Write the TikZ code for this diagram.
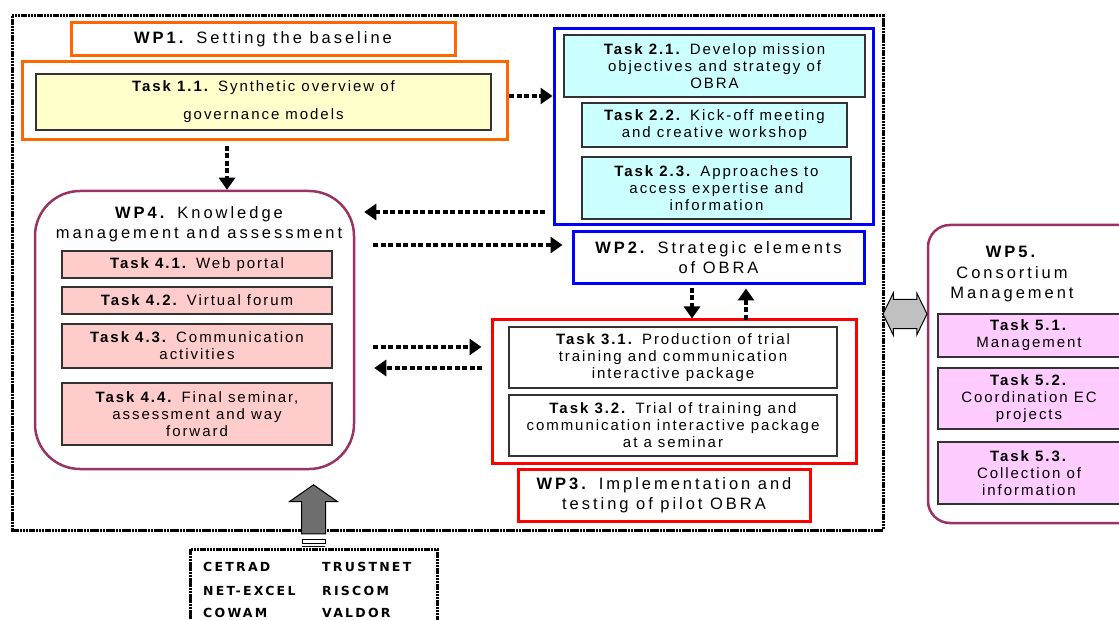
\documentclass[tikz,border=0pt]{standalone}
\usepackage{fontspec}
\setmainfont{Liberation Sans}
\newfontfamily\taskfont[LetterSpace=13]{Liberation Sans}
\newfontfamily\wpfont[LetterSpace=18]{Liberation Sans}
\newfontfamily\partnerfont[LetterSpace=18]{DejaVu Sans}
\usepackage{tikz}
\usetikzlibrary{arrows.meta}
\usetikzlibrary{shapes.arrows}
\definecolor{wporange}{HTML}{FF6600}
\definecolor{wpyellow}{HTML}{FFFFCC}
\definecolor{wpblue}{HTML}{0000FF}
\definecolor{wpcyan}{HTML}{CCFFFF}
\definecolor{wppink}{HTML}{FFCCCC}
\definecolor{wpplum}{HTML}{993366}
\definecolor{wplilac}{HTML}{FFCCFF}
\definecolor{wpred}{HTML}{FF0000}
\definecolor{wpgrey}{HTML}{6E6E6E}
\definecolor{wpsilver}{HTML}{C0C0C0}
\tikzset{
	taskbox/.style={draw=black!80, line width=1.3pt, align=center, inner sep=0pt, font=\taskfont\fontsize{15}{17}\selectfont},
	wpbox/.style={line width=3pt, fill=white, align=center, inner sep=0pt, font=\wpfont\fontsize{16.5}{20}\selectfont},
	wpround/.style={draw=wpplum, line width=2.5pt, fill=white},
	wptitle/.style={align=center, inner sep=0pt, font=\wpfont\fontsize{16.5}{20.5}\selectfont},
	linkarrow/.style={line width=4.5pt, dash pattern=on 5pt off 2.5pt, -{Triangle[length=12pt,width=16pt]}},
	wpframe/.style={line width=3pt, dash pattern=on 2.5pt off 0.7pt},
	partner/.style={anchor=west, inner sep=0pt, font=\partnerfont\bfseries\fontsize{12.5}{14}\selectfont}
}

\begin{document}
\begin{tikzpicture}[x=1pt, y=-1pt]
			\useasboundingbox (0,0) rectangle (1119,620);
			\draw[wpframe] (12,16) rectangle (883,530);
			% WP1
			\node[wpbox, draw=wporange, minimum width=384pt, minimum height=33pt] (wp1) at (263,39.5) {\textbf{WP1.} Setting the baseline};
			\node[draw=wporange, line width=3pt, minimum width=485pt, minimum height=78pt] (wp1tasks) at (264.5,101) {};
			\node[taskbox, fill=wpyellow, minimum width=455pt, minimum height=56pt, font=\taskfont\fontsize{15}{28}\selectfont] (t11) at (263.5,102) {\textbf{Task 1.1.} Synthetic overview of\\governance models};
			% WP2
			\node[draw=wpblue, line width=3pt, minimum width=319pt, minimum height=196pt] (wp2tasks) at (713.5,127) {};
			\node[taskbox, fill=wpcyan, minimum width=301pt, minimum height=62pt] (t21) at (714.5,66) {\textbf{Task 2.1.} Develop mission\\objectives and strategy of\\OBRA};
			\node[taskbox, fill=wpcyan, minimum width=265pt, minimum height=44pt] (t22) at (714.5,125) {\textbf{Task 2.2.} Kick-off meeting\\and creative workshop};
			\node[taskbox, fill=wpcyan, minimum width=269pt, minimum height=62pt] (t23) at (716.5,188) {\textbf{Task 2.3.} Approaches to\\access expertise and\\information};
			\node[wpbox, draw=wpblue, minimum width=291pt, minimum height=52pt] (wp2) at (718.5,258) {\textbf{WP2.} Strategic elements\\of OBRA};
			% WP4
			\node[wpround, rounded corners=45pt, minimum width=319pt, minimum height=278pt] (wp4) at (194.5,330) {};
			\node[wptitle] (wp4title) at (199,224) {\textbf{WP4.} Knowledge\\management and assessment};
			\node[taskbox, fill=wppink, minimum width=270pt, minimum height=27pt] (t41) at (197,264.5) {\textbf{Task 4.1.} Web portal};
			\node[taskbox, fill=wppink, minimum width=270pt, minimum height=27pt] (t42) at (197,300.5) {\textbf{Task 4.2.} Virtual forum};
			\node[taskbox, fill=wppink, minimum width=270pt, minimum height=44pt] (t43) at (197,346) {\textbf{Task 4.3.} Communication\\activities};
			\node[taskbox, fill=wppink, minimum width=270pt, minimum height=62pt] (t44) at (197,414) {\textbf{Task 4.4.} Final seminar,\\assessment and way\\forward};
			% WP3
			\node[draw=wpred, line width=3pt, minimum width=364pt, minimum height=143pt] (wp3tasks) at (674,391.5) {};
			\node[taskbox, fill=white, minimum width=328pt, minimum height=61pt] (t31) at (673,357.5) {\textbf{Task 3.1.} Production of trial\\training and communication\\interactive package};
			\node[taskbox, fill=white, minimum width=328pt, minimum height=61pt] (t32) at (673,425.5) {\textbf{Task 3.2.} Trial of training and\\communication interactive package\\at a seminar};
			\node[wpbox, draw=wpred, minimum width=292pt, minimum height=52pt] (wp3) at (664,495) {\textbf{WP3.} Implementation and\\testing of pilot OBRA};
			% WP5
			\node[wpround, rounded corners=22pt, minimum width=222pt, minimum height=298pt] (wp5) at (1039,374) {};
			\node[wptitle] (wp5title) at (1012,274.5) {\textbf{WP5.}\\Consortium\\Management};
			\node[taskbox, fill=wplilac, minimum width=182pt, minimum height=43pt] (t51) at (1029,335.5) {\textbf{Task 5.1.}\\Management};
			\node[taskbox, fill=wplilac, minimum width=182pt, minimum height=61pt] (t52) at (1029,398.5) {\textbf{Task 5.2.}\\Coordination EC\\projects};
			\node[taskbox, fill=wplilac, minimum width=182pt, minimum height=62pt] (t53) at (1029,473) {\textbf{Task 5.3.}\\Collection of\\information};
			% partners
			\node[draw, wpframe, minimum width=247pt, minimum height=101pt] (partners) at (313.5,599.5) {};
			\node[partner] (cetrad) at (203,567) {CETRAD};
			\node[partner] (netexcel) at (203,590.5) {NET-EXCEL};
			\node[partner] (cowam) at (203,613) {COWAM};
			\node[partner] (trustnet) at (322,567) {TRUSTNET};
			\node[partner] (riscom) at (322,590.5) {RISCOM};
			\node[partner] (valdor) at (322,613) {VALDOR};
			% links
			\coordinate (a1) at (227,146);
			\coordinate (a2) at (509,96);
			\coordinate (a3) at (545,212);
			\coordinate (a4) at (373,245);
			\coordinate (a5) at (373,347);
			\coordinate (a6) at (482,368);
			\coordinate (a7) at (692,288);
			\coordinate (a8) at (746,320);
			\draw[linkarrow] (a1) -- (a1 |- wp4.north);
			\draw[linkarrow] (a2) -- (a2 -| wp2tasks.west);
			\draw[linkarrow, shorten >=9pt] (a3) -- (a3 -| wp4.east);
			\draw[linkarrow, shorten >=9pt] (a4) -- (a4 -| wp2.west);
			\draw[linkarrow, shorten >=9pt] (a5) -- (a5 -| wp3tasks.west);
			\draw[linkarrow, shorten >=19pt] (a6) -- (a6 -| wp4.east);
			\draw[linkarrow] (a7) -- (a7 |- wp3tasks.north);
			\draw[linkarrow, shorten >=3pt] (a8) -- (a8 |- wp2.south);
			% block arrows
			\node[single arrow, draw=black, fill=wpgrey, line width=1pt, rotate=90, inner xsep=0pt, inner ysep=11.5pt, minimum height=49pt, single arrow head extend=12pt, single arrow tip angle=110] (uparrow) at (313.5,513.5) {};
			\node[draw=black, fill=white, line width=1pt, inner sep=0pt, minimum width=23pt, minimum height=4pt] (upbase) at (313.5,541.5) {};
			\node[fill=black, inner sep=0pt, minimum width=23pt, minimum height=1.5pt] (upbase2) at (313.5,546.5) {};
			\node[double arrow, draw=black, fill=wpsilver, line width=1pt, inner xsep=0pt, inner ysep=14pt, minimum height=44pt, double arrow head extend=6.5pt, double arrow tip angle=128] (wp5arrow) at (905,314) {};
		\end{tikzpicture}
\end{document}
